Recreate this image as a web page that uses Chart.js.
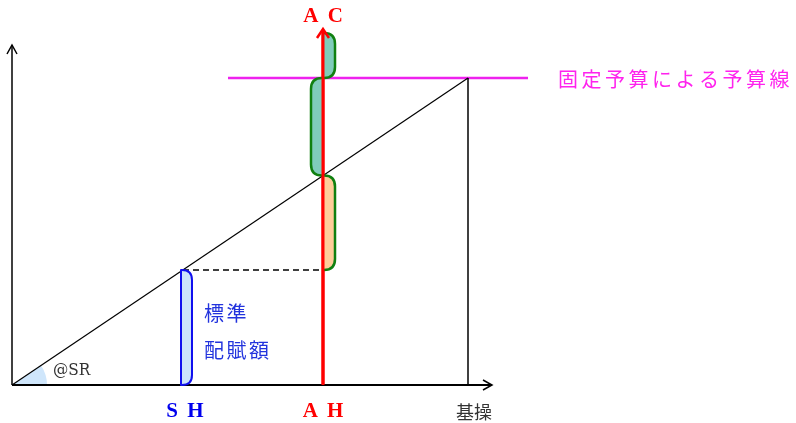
<!DOCTYPE html>
<html>
<head>
<meta charset="utf-8">
<script src="https://cdn.jsdelivr.net/npm/chart.js@4/dist/chart.umd.min.js"></script>
<style>
html,body{margin:0;padding:0;background:#fff;}
#wrap{width:796px;height:423px;}
</style>
</head>
<body>
<div id="wrap"><canvas id="c" width="796" height="423"></canvas></div>
<script>
// Key positions on the operating-level axis (units = abstract activity)
const xLabels = ["S H", "A H", "基操"];
const xValues = [171, 311, 456];
// Budget (fixed) level and standard allocation slope
const fixedBudget = [307];
const standardAtSH = [115];
const actualCost = [352];
const rateLabel = ["@SR"];
const budgetLineLabel = ["固定予算による予算線"];
const allocLabel = ["標準", "配賦額"];
const topLabel = ["A C"];

const SH = xValues[0], AH = xValues[1], BASE = xValues[2];
const FB = fixedBudget[0];
const slope = FB / BASE;
const budgetAtAH = slope * AH;
const stdAtSH = slope * SH;

const overlay = {
  id: 'overlay',
  beforeDatasetsDraw(chart) {
    const ctx = chart.ctx, xs = chart.scales.x, ys = chart.scales.y;
    const px = v => xs.getPixelForValue(v), py = v => ys.getPixelForValue(v);
    ctx.save();
    ctx.fillStyle = '#cfe6fb';
    ctx.beginPath();
    ctx.moveTo(px(0), py(0));
    ctx.arc(px(0), py(0), 35, -Math.atan(slope), 0);
    ctx.closePath();
    ctx.fill();
    ctx.restore();
  },
  afterDatasetsDraw(chart) {
    const ctx = chart.ctx, xs = chart.scales.x, ys = chart.scales.y;
    const px = v => xs.getPixelForValue(v), py = v => ys.getPixelForValue(v);

    function bracket(x, yTop, yBot, side, w, r, fill, stroke, lw, strokeInner) {
      ctx.save();
      ctx.beginPath();
      const s = side === 'right' ? 1 : -1;
      const xo = x + s * w;
      ctx.moveTo(x, yTop);
      ctx.lineTo(xo - s * r, yTop);
      ctx.quadraticCurveTo(xo, yTop, xo, yTop + r);
      ctx.lineTo(xo, yBot - r);
      ctx.quadraticCurveTo(xo, yBot, xo - s * r, yBot);
      ctx.lineTo(x, yBot);
      if (strokeInner) ctx.closePath();
      ctx.fillStyle = fill;
      ctx.fill();
      ctx.strokeStyle = stroke;
      ctx.lineWidth = lw;
      ctx.lineJoin = 'round';
      ctx.stroke();
      ctx.restore();
    }
    const xA = px(AH);
    bracket(xA, py(budgetAtAH), py(stdAtSH), 'right', 12, 11, '#ffcc99', '#108010', 2.5, false);
    bracket(xA, py(FB), py(budgetAtAH), 'left', 12, 11, '#80ccbb', '#108010', 2.5, false);
    bracket(xA, py(actualCost[0]), py(FB), 'right', 12, 11, '#80ccbb', '#108010', 2.5, false);
    bracket(px(SH) - 2, py(stdAtSH), py(0), 'right', 11, 10, '#cce4fb', '#1010ee', 2, true);

    ctx.save();
    ctx.strokeStyle = '#ff0000';
    ctx.lineWidth = 3;
    ctx.beginPath();
    ctx.moveTo(xA, py(0));
    ctx.lineTo(xA, py(actualCost[0]) - 2);
    ctx.stroke();
    const ty = py(actualCost[0]) - 4;
    ctx.beginPath();
    ctx.moveTo(xA - 6, ty + 9);
    ctx.lineTo(xA, ty);
    ctx.lineTo(xA + 6, ty + 9);
    ctx.lineWidth = 2.5;
    ctx.stroke();
    ctx.restore();

    ctx.save();
    ctx.strokeStyle = '#000';
    ctx.lineWidth = 1.5;
    const ox = px(0), oy = py(0);
    const yTop = py(340), xEnd = px(480);
    ctx.beginPath();
    ctx.moveTo(ox - 5, yTop + 9); ctx.lineTo(ox, yTop); ctx.lineTo(ox + 5, yTop + 9);
    ctx.stroke();
    ctx.beginPath();
    ctx.moveTo(xEnd - 9, oy - 5); ctx.lineTo(xEnd, oy); ctx.lineTo(xEnd - 9, oy + 5);
    ctx.stroke();
    ctx.restore();

    // texts
    ctx.save();
    ctx.textBaseline = 'middle';
    ctx.textAlign = 'center';
    ctx.letterSpacing = '2px';
    ctx.font = 'bold 21px "Liberation Serif", serif';
    ctx.fillStyle = '#ff0000';
    ctx.fillText(topLabel[0], xA + 1, 17);
    ctx.fillStyle = '#0000ee';
    ctx.fillText(xLabels[0], px(SH) + 3, 412);
    ctx.fillStyle = '#ff0000';
    ctx.fillText(xLabels[1], px(AH) + 1, 412);
    ctx.letterSpacing = '0px';
    ctx.font = '18px "Noto Sans CJK JP", sans-serif';
    ctx.fillStyle = '#333';
    ctx.fillText(xLabels[2], px(BASE) + 6, 412);
    ctx.textAlign = 'left';
    ctx.letterSpacing = '3.5px';
    ctx.font = '20px "Noto Sans CJK JP", sans-serif';
    ctx.fillStyle = '#ff22ee';
    ctx.fillText(budgetLineLabel[0], 558, py(FB) + 1);
    ctx.letterSpacing = '2.5px';
    ctx.font = '20px "Noto Sans CJK JP", sans-serif';
    ctx.fillStyle = '#2233dd';
    ctx.fillText(allocLabel[0], 204, 313);
    ctx.fillText(allocLabel[1], 204, 350);
    ctx.letterSpacing = '0px';
    ctx.font = '17px "DejaVu Serif Condensed", "DejaVu Serif", serif';
    ctx.fillStyle = '#333';
    ctx.fillText(rateLabel[0], 53, 371);
    ctx.restore();
  }
};

const line = (data, color, width, dash) => ({
  data, borderColor: color, borderWidth: width, borderDash: dash || [],
  pointRadius: 0, showLine: true, fill: false, tension: 0
});

new Chart(document.getElementById('c'), {
  type: 'scatter',
  data: {
    datasets: [
      line([{x: 0, y: 0}, {x: BASE, y: FB}], '#000', 1.2),
      line([{x: BASE, y: 0}, {x: BASE, y: FB}], '#000', 1.5),
      line([{x: SH, y: stdAtSH}, {x: AH, y: stdAtSH}], '#000', 1.5, [6, 4]),
      line([{x: 216, y: FB}, {x: 516, y: FB}], '#ee22ee', 2.5),
      line([{x: 0, y: 0}, {x: 480, y: 0}], '#000', 2),
      line([{x: 0, y: 0}, {x: 0, y: 340}], '#000', 1.5),
      line([{x: AH, y: 0}, {x: AH, y: actualCost[0]}], '#ff0000', 3)
    ]
  },
  options: {
    responsive: false,
    animation: false,
    layout: {padding: 0},
    plugins: {legend: {display: false}, tooltip: {enabled: false}},
    scales: {
      x: {type: 'linear', min: -12, max: 784, display: false},
      y: {type: 'linear', min: -38, max: 385, display: false}
    }
  },
  plugins: [overlay]
});
</script>
</body>
</html>
